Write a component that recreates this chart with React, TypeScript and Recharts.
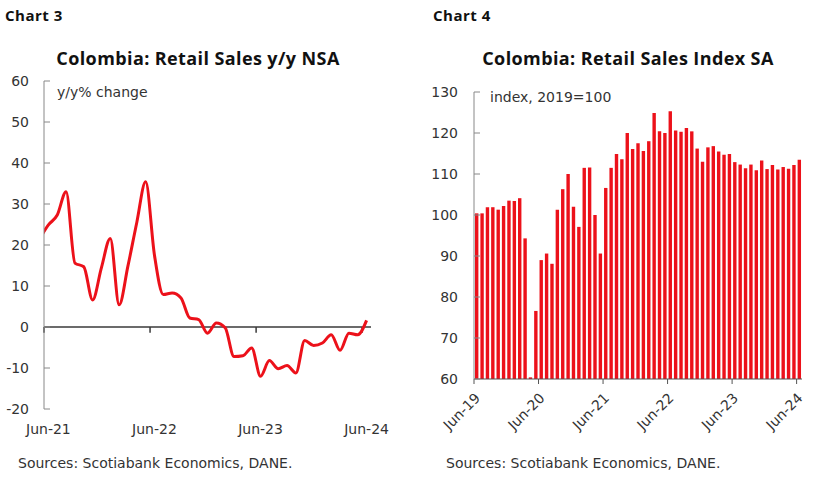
import {
  ComposedChart,
  BarChart,
  Bar,
  Line,
  XAxis,
  YAxis,
  ReferenceLine,
} from 'recharts';

// Chart 3: y/y % change, NSA (May-21 point sits left of the axis and is clipped)
const lineMonths = [
  'May-21', 'Jun-21', 'Jul-21', 'Aug-21', 'Sep-21', 'Oct-21', 'Nov-21', 'Dec-21',
  'Jan-22', 'Feb-22', 'Mar-22', 'Apr-22', 'May-22', 'Jun-22', 'Jul-22', 'Aug-22',
  'Sep-22', 'Oct-22', 'Nov-22', 'Dec-22', 'Jan-23', 'Feb-23', 'Mar-23', 'Apr-23',
  'May-23', 'Jun-23', 'Jul-23', 'Aug-23', 'Sep-23', 'Oct-23', 'Nov-23', 'Dec-23',
  'Jan-24', 'Feb-24', 'Mar-24', 'Apr-24', 'May-24', 'Jun-24',
];
const yoyValues = [
  21.5, 24.9, 27.3, 33.0, 15.6, 14.7, 6.6, 14.5, 21.6, 5.4,
  14.9, 25.5, 35.4, 17.5, 7.9, 8.3, 7.1, 2.2, 1.8, -1.5,
  1.0, -0.2, -7.2, -7.0, -5.1, -12.0, -8.2, -10.2, -9.4, -11.2,
  -3.3, -4.5, -3.9, -1.9, -5.7, -1.5, -1.9, 1.6,
];
const lineTickLabels = ['Jun-21', 'Jun-22', 'Jun-23', 'Jun-24'];
const yoyTicks = [-20, -10, 0, 10, 20, 30, 40, 50, 60];

// Chart 4: index 2019=100, SA
const barMonths = [
  'Jun-19', 'Jul-19', 'Aug-19', 'Sep-19', 'Oct-19', 'Nov-19', 'Dec-19',
  'Jan-20', 'Feb-20', 'Mar-20', 'Apr-20', 'May-20', 'Jun-20', 'Jul-20', 'Aug-20', 'Sep-20', 'Oct-20', 'Nov-20', 'Dec-20',
  'Jan-21', 'Feb-21', 'Mar-21', 'Apr-21', 'May-21', 'Jun-21', 'Jul-21', 'Aug-21', 'Sep-21', 'Oct-21', 'Nov-21', 'Dec-21',
  'Jan-22', 'Feb-22', 'Mar-22', 'Apr-22', 'May-22', 'Jun-22', 'Jul-22', 'Aug-22', 'Sep-22', 'Oct-22', 'Nov-22', 'Dec-22',
  'Jan-23', 'Feb-23', 'Mar-23', 'Apr-23', 'May-23', 'Jun-23', 'Jul-23', 'Aug-23', 'Sep-23', 'Oct-23', 'Nov-23', 'Dec-23',
  'Jan-24', 'Feb-24', 'Mar-24', 'Apr-24', 'May-24', 'Jun-24',
];
const indexValues = [
  100.4, 100.4, 101.9, 101.9, 101.3, 102.2, 103.5, 103.4, 104.1, 94.3,
  60.4, 76.6, 89.0, 90.6, 88.1, 101.3, 106.3, 110.0, 102.0, 97.1,
  111.5, 111.6, 100.0, 90.6, 106.6, 111.5, 114.9, 113.6, 120.0, 116.1,
  117.5, 115.6, 118.0, 124.9, 120.4, 120.0, 125.3, 120.6, 120.3, 121.2,
  120.4, 116.2, 113.0, 116.5, 116.8, 115.5, 114.7, 114.9, 112.9, 112.3,
  111.4, 112.3, 110.9, 113.3, 111.2, 112.2, 111.1, 111.7, 111.3, 112.2,
  113.5,
];
const barTickLabels = ['Jun-19', 'Jun-20', 'Jun-21', 'Jun-22', 'Jun-23', 'Jun-24'];
const indexTicks = [60, 70, 80, 90, 100, 110, 120, 130];

const RED = '#ec111a';
const TITLE_FONT = "'Open Sans', 'Noto Sans', sans-serif";
const AXIS_FONT = "'DejaVu Sans', sans-serif";
const TEXT = '#333333';

const lineData = lineMonths.map((m, i) => ({ t: i - 1, month: m, value: yoyValues[i] }));
const lineTicks = lineTickLabels.map((l) => lineMonths.indexOf(l) - 1);

const barData = barMonths.map((m, i) => ({ t: i, month: m, value: indexValues[i] }));
const barTicks = barTickLabels.map((l) => barMonths.indexOf(l) - 0.5);

const axisTick = { fill: TEXT, fontSize: 14, fontFamily: AXIS_FONT };

function RotatedTick(props: any) {
  const { x, y, payload } = props;
  const label = barMonths[Math.round(payload.value + 0.5)];
  const ax = x + 7;
  const ay = y + 13;
  return (
    <text
      x={ax}
      y={ay}
      transform={`rotate(-45, ${ax}, ${ay})`}
      textAnchor="end"
      fill={TEXT}
      fontSize={14}
      fontFamily={AXIS_FONT}
    >
      {label}
    </text>
  );
}

function Heading({ left, top, size, children, center, spacing }: any) {
  return (
    <div
      style={{
        position: 'absolute',
        left,
        top,
        fontSize: size,
        fontWeight: 700,
        fontFamily: TITLE_FONT,
        color: '#111',
        lineHeight: 1,
        letterSpacing: spacing,
        whiteSpace: 'nowrap',
        transform: center ? 'translateX(-50%)' : undefined,
      }}
    >
      {children}
    </div>
  );
}

function Note({ left, top, children }: any) {
  return (
    <div
      style={{
        position: 'absolute',
        left,
        top,
        fontSize: 14,
        fontFamily: AXIS_FONT,
        color: TEXT,
        lineHeight: 1,
        whiteSpace: 'nowrap',
      }}
    >
      {children}
    </div>
  );
}

export default function App() {
  return (
    <div style={{ position: 'relative', width: 828, height: 482, background: '#fff' }}>
      <style>{'body{margin:0}'}</style>

      <Heading left={5} top={8} size={15} spacing={0.5}>Chart 3</Heading>
      <Heading left={433} top={8} size={15} spacing={0.5}>Chart 4</Heading>
      <Heading left={198} top={49} size={18} spacing={0.4} center>Colombia: Retail Sales y/y NSA</Heading>
      <Heading left={628} top={49} size={18} spacing={0.4} center>Colombia: Retail Sales Index SA</Heading>

      <div style={{ position: 'absolute', left: 0, top: 0 }}>
        <ComposedChart
          width={400}
          height={482}
          data={lineData}
          margin={{ top: 81, right: 29, bottom: 43, left: 0 }}
        >
          <XAxis
            dataKey="t"
            type="number"
            domain={[-0.5, 36.5]}
            allowDataOverflow
            ticks={lineTicks}
            interval={0}
            tickFormatter={(v: number) => lineMonths[v + 1]}
            axisLine={false}
            tickLine={false}
            tickSize={0}
            tickMargin={15}
            height={30}
            tick={axisTick}
          />
          <YAxis
            domain={[-20, 60]}
            ticks={yoyTicks}
            interval={0}
            width={44}
            tick={axisTick}
            tickSize={-6}
            tickMargin={21}
            axisLine={{ stroke: '#888888' }}
            tickLine={{ stroke: '#888888' }}
          />
          <ReferenceLine y={0} stroke="#3a3a3a" strokeWidth={1.5} />
          {lineTicks.map((t) => (
            <ReferenceLine
              key={t}
              segment={[
                { x: t - 0.5, y: 0 },
                { x: t - 0.5, y: -1.4 },
              ]}
              stroke="#3a3a3a"
              strokeWidth={1.5}
            />
          ))}
          <Line
            type="monotone"
            dataKey="value"
            stroke={RED}
            strokeWidth={3}
            dot={false}
            isAnimationActive={false}
          />
        </ComposedChart>
      </div>

      <div style={{ position: 'absolute', left: 420, top: 0 }}>
        <BarChart
          width={408}
          height={482}
          data={barData}
          margin={{ top: 92, right: 26, bottom: 43, left: 0 }}
        >
          <XAxis
            dataKey="t"
            type="number"
            domain={[-0.5, 60.5]}
            ticks={barTicks}
            interval={0}
            tick={<RotatedTick />}
            tickSize={5}
            tickMargin={2}
            height={60}
            axisLine={{ stroke: '#555555' }}
            tickLine={{ stroke: '#555555' }}
          />
          <YAxis
            domain={[60, 130]}
            ticks={indexTicks}
            interval={0}
            width={54}
            tick={axisTick}
            tickSize={-6}
            tickMargin={22}
            axisLine={{ stroke: '#888888' }}
            tickLine={{ stroke: '#888888' }}
          />
          <Bar dataKey="value" fill={RED} barSize={3.4} isAnimationActive={false} />
        </BarChart>
      </div>

      <Note left={57} top={85}>y/y% change</Note>
      <Note left={490} top={90}>index, 2019=100</Note>
      <Note left={18} top={456}>Sources: Scotiabank Economics, DANE.</Note>
      <Note left={446} top={456}>Sources: Scotiabank Economics, DANE.</Note>
    </div>
  );
}
